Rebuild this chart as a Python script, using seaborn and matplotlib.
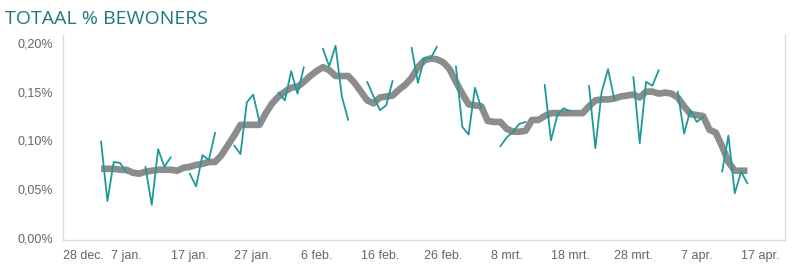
import pandas as pd
import numpy as np
import seaborn as sns
import matplotlib.pyplot as plt
import matplotlib.ticker as mticker

sns.set_style("white")
plt.rcParams['font.family'] = ['Liberation Sans', 'DejaVu Sans']

# eerste dag met data: 3 jan. 2021 (as begint op 28 dec.)
start = pd.Timestamp("2021-01-03")

# dagwaarden (%), werkdagen in blokken van 5, weekend leeg
weeks = [
    [0.099, 0.038, 0.078, 0.077, 0.067],
    [0.073, 0.034, 0.091, 0.073, 0.083],
    [0.066, 0.053, 0.085, 0.080, 0.108],
    [0.095, 0.086, 0.139, 0.147, 0.119],
    [0.149, 0.141, 0.171, 0.148, 0.175],
    [0.194, 0.176, 0.197, 0.145, 0.121],
    [0.160, 0.145, 0.131, 0.136, 0.161],
    [0.195, 0.159, 0.184, 0.184, 0.196],
    [0.176, 0.114, 0.106, 0.154, 0.133],
    [0.094, 0.103, 0.109, 0.117, 0.119],
    [0.157, 0.100, 0.126, 0.133, 0.130],
    [0.156, 0.092, 0.150, 0.173, 0.142],
    [0.165, 0.097, 0.160, 0.156, 0.172],
    [0.150, 0.107, 0.131, 0.119, 0.124],
    [0.068, 0.105, 0.046, 0.068, 0.056],
]

# voortschrijdend gemiddelde (%), dagelijks vanaf 3 jan.
avg = [
    0.071, 0.071, 0.071, 0.070, 0.070, 0.067, 0.066, 0.068, 0.069, 0.070,
    0.070, 0.070, 0.069, 0.072, 0.073, 0.075, 0.076, 0.078, 0.078, 0.085,
    0.095, 0.105, 0.116, 0.116, 0.116, 0.116, 0.128, 0.138, 0.145, 0.150,
    0.154, 0.155, 0.160, 0.166, 0.171, 0.175, 0.172, 0.166, 0.166, 0.166,
    0.159, 0.150, 0.141, 0.138, 0.144, 0.145, 0.146, 0.152, 0.157, 0.164,
    0.175, 0.182, 0.184, 0.183, 0.180, 0.173, 0.160, 0.148, 0.137, 0.136,
    0.135, 0.120, 0.119, 0.119, 0.112, 0.109, 0.109, 0.110, 0.121, 0.121,
    0.125, 0.128, 0.128, 0.128, 0.128, 0.128, 0.128, 0.135, 0.141, 0.142,
    0.142, 0.143, 0.145, 0.146, 0.147, 0.144, 0.150, 0.150, 0.148, 0.149,
    0.148, 0.144, 0.135, 0.127, 0.126, 0.125, 0.111, 0.108, 0.094, 0.078,
    0.069, 0.069, 0.069,
]

tick_dates = pd.date_range("2020-12-28", periods=12, freq="10D")
tick_labels = ["28 dec.", "7 jan.", "17 jan.", "27 jan.", "6 feb.", "16 feb.",
               "26 feb.", "8 mrt.", "18 mrt.", "28 mrt.", "7 apr.", "17 apr."]

rows = []
for w, vals in enumerate(weeks):
    for i, v in enumerate(vals):
        rows.append({"datum": start + pd.Timedelta(days=7 * w + i), "waarde": v, "week": w})
daily = pd.DataFrame(rows)
gem = pd.DataFrame({"datum": pd.date_range(start, periods=len(avg), freq="D"), "waarde": avg})

fig = plt.figure(figsize=(7.93, 2.65), dpi=100)
ax = fig.add_axes([0.0795, 0.094, 0.911, 0.774])

sns.lineplot(data=gem, x="datum", y="waarde", color="#8c8c8c", lw=4.8, ax=ax,
             solid_capstyle="butt", zorder=2)
sns.lineplot(data=daily, x="datum", y="waarde", units="week", estimator=None,
             color="#1f9a96", lw=1.3, ax=ax, zorder=3)

ax.set_xlim(pd.Timestamp("2020-12-28"), pd.Timestamp("2021-04-21"))
ax.set_ylim(-0.002, 0.208)
ax.set_yticks([0, 0.05, 0.10, 0.15, 0.20])
ax.yaxis.set_major_formatter(mticker.FuncFormatter(lambda v, p: f"{v:.2f}%".replace(".", ",")))
ax.set_xticks(tick_dates)
ax.set_xticklabels(tick_labels)
ax.xaxis.get_ticklabels()[0].set_horizontalalignment("left")

ax.set_xlabel("")
ax.set_ylabel("")
ax.tick_params(axis="both", labelsize=9, colors="#666666", length=0, pad=7)
ax.tick_params(axis="x", length=3, color="#dddddd", pad=4)
for s in ["left", "right", "bottom"]:
    ax.spines[s].set_color("#dcdcdc")
    ax.spines[s].set_linewidth(1)
ax.spines["top"].set_visible(False)

fig.text(0.006, 0.93, "TOTAAL % BEWONERS", color="#217a78", fontsize=14,
         ha="left", va="center", family=["Open Sans", "DejaVu Sans"])

fig.savefig("out.png", dpi=100)
